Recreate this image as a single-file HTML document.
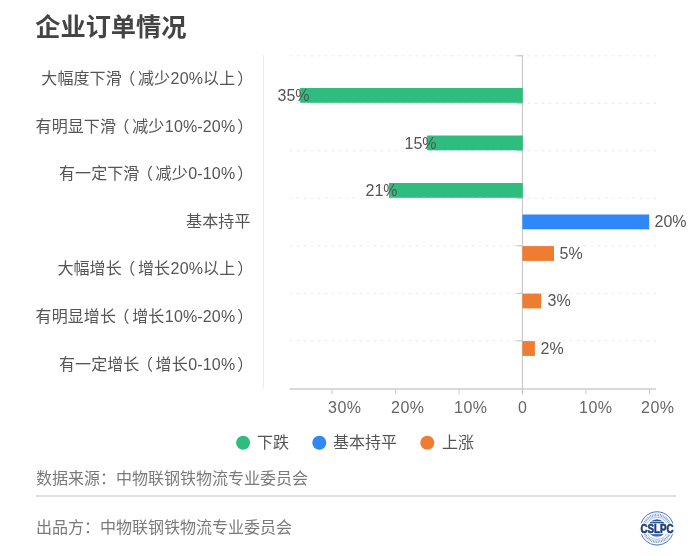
<!DOCTYPE html>
<html lang="zh-CN">
<head>
<meta charset="utf-8">
<title>企业订单情况</title>
<style>
  html, body { margin: 0; padding: 0; background: #ffffff; }
  body { width: 700px; height: 556px; position: relative; overflow: hidden;
    font-family: "Liberation Sans", "Noto Sans CJK SC", sans-serif; font-size: 16px; color: #555; }
  .abs { position: absolute; white-space: nowrap; line-height: 20px; height: 20px; }
  .title { left: 35.3px; top: 12px; font-size: 25.2px; font-weight: bold; color: #444; line-height: 30px; height: 30px; letter-spacing: 0; }
  .cat { right: 446.6px; text-align: right; color: #555; letter-spacing: 0.1px; }
  .cat.np { right: 449.5px; }
  .pl { position: relative; left: -2.5px; }
  .pr { margin-left: 2px; }
  .n { letter-spacing: 0.15px; margin-left: 0.5px; }
  .val .n, .tick .n { margin-left: 0; }
  .tick .n { letter-spacing: 0.5px; }
  .val { color: #555; }
  .tick { color: #666; }
  .leg { color: #555; }
  .foot { color: #7a7a7a; left: 36px; }
</style>
</head>
<body>
  <div class="abs title">企业订单情况</div>

  <!-- category labels -->
  <div class="abs cat" style="top:69px">大幅度下滑<span class="pl">（</span>减少<span class="n">20%</span>以上<span class="pr">）</span></div>
  <div class="abs cat" style="top:116.5px">有明显下滑<span class="pl">（</span>减少<span class="n">10%-20%</span><span class="pr">）</span></div>
  <div class="abs cat" style="top:164px">有一定下滑<span class="pl">（</span>减少<span class="n">0-10%</span><span class="pr">）</span></div>
  <div class="abs cat np" style="top:211.5px">基本持平</div>
  <div class="abs cat" style="top:259px">大幅增长<span class="pl">（</span>增长<span class="n">20%</span>以上<span class="pr">）</span></div>
  <div class="abs cat" style="top:306.5px">有明显增长<span class="pl">（</span>增长<span class="n">10%-20%</span><span class="pr">）</span></div>
  <div class="abs cat" style="top:354.5px">有一定增长<span class="pl">（</span>增长<span class="n">0-10%</span><span class="pr">）</span></div>

  <!-- chart graphics -->
  <svg style="position:absolute;left:0;top:0" width="700" height="430" viewBox="0 0 700 430">
    <line x1="263.5" y1="55" x2="263.5" y2="388.5" stroke="#ebebeb" stroke-width="1"/>
    <line x1="289.5" y1="55.8" x2="656.5" y2="55.8" stroke="#eaeaea" stroke-width="1" stroke-dasharray="3 4"/>
    <line x1="289.5" y1="103.3" x2="656.5" y2="103.3" stroke="#eaeaea" stroke-width="1" stroke-dasharray="3 4"/>
    <line x1="289.5" y1="150.8" x2="656.5" y2="150.8" stroke="#eaeaea" stroke-width="1" stroke-dasharray="3 4"/>
    <line x1="289.5" y1="198.3" x2="656.5" y2="198.3" stroke="#eaeaea" stroke-width="1" stroke-dasharray="3 4"/>
    <line x1="289.5" y1="245.8" x2="656.5" y2="245.8" stroke="#eaeaea" stroke-width="1" stroke-dasharray="3 4"/>
    <line x1="289.5" y1="293.3" x2="656.5" y2="293.3" stroke="#eaeaea" stroke-width="1" stroke-dasharray="3 4"/>
    <line x1="289.5" y1="340.8" x2="656.5" y2="340.8" stroke="#eaeaea" stroke-width="1" stroke-dasharray="3 4"/>
    <line x1="289.5" y1="389" x2="656" y2="389" stroke="#cccccc" stroke-width="1.4"/>
    <line x1="332.0" y1="389" x2="332.0" y2="394.3" stroke="#cccccc" stroke-width="1"/>
    <line x1="395.5" y1="389" x2="395.5" y2="394.3" stroke="#cccccc" stroke-width="1"/>
    <line x1="459.0" y1="389" x2="459.0" y2="394.3" stroke="#cccccc" stroke-width="1"/>
    <line x1="522.4" y1="389" x2="522.4" y2="394.3" stroke="#cccccc" stroke-width="1"/>
    <line x1="586.0" y1="389" x2="586.0" y2="394.3" stroke="#cccccc" stroke-width="1"/>
    <line x1="649.5" y1="389" x2="649.5" y2="394.3" stroke="#cccccc" stroke-width="1"/>
    <line x1="522.4" y1="55.5" x2="522.4" y2="394.3" stroke="#c2c2c2" stroke-width="1"/>
    <line x1="516.5" y1="55.8" x2="522.4" y2="55.8" stroke="#bfbfbf" stroke-width="1"/>
    <line x1="516.5" y1="103.3" x2="522.4" y2="103.3" stroke="#bfbfbf" stroke-width="1"/>
    <line x1="516.5" y1="150.8" x2="522.4" y2="150.8" stroke="#bfbfbf" stroke-width="1"/>
    <line x1="516.5" y1="198.3" x2="522.4" y2="198.3" stroke="#bfbfbf" stroke-width="1"/>
    <line x1="516.5" y1="245.8" x2="522.4" y2="245.8" stroke="#bfbfbf" stroke-width="1"/>
    <line x1="516.5" y1="293.3" x2="522.4" y2="293.3" stroke="#bfbfbf" stroke-width="1"/>
    <line x1="516.5" y1="340.8" x2="522.4" y2="340.8" stroke="#bfbfbf" stroke-width="1"/>
    <rect x="300.1" y="88.0" width="222.7" height="14.8" fill="#2ebd7f"/>
    <rect x="427.1" y="135.5" width="95.7" height="14.8" fill="#2ebd7f"/>
    <rect x="389.0" y="183.0" width="133.8" height="14.8" fill="#2ebd7f"/>
    <rect x="522.4" y="214.5" width="126.8" height="14.8" fill="#2f88f7"/>
    <rect x="522.4" y="246.1" width="31.6" height="14.8" fill="#ee7c31"/>
    <rect x="522.4" y="293.6" width="18.8" height="14.8" fill="#ee7c31"/>
    <rect x="522.4" y="341.1" width="12.5" height="14.8" fill="#ee7c31"/>
  </svg>

  <!-- value labels -->
  <div class="abs val" style="left:277.5px;top:85.5px">35%</div>
  <div class="abs val" style="left:404.5px;top:133.5px">15%</div>
  <div class="abs val" style="left:365.5px;top:180.5px">21%</div>
  <div class="abs val" style="left:654.5px;top:211.5px">20%</div>
  <div class="abs val" style="left:559.5px;top:243.5px">5%</div>
  <div class="abs val" style="left:547.5px;top:290.5px">3%</div>
  <div class="abs val" style="left:540.5px;top:338.5px">2%</div>

  <!-- x tick labels -->
  <div class="abs tick" style="left:328px;top:398.0px"><span class="n">30%</span></div>
  <div class="abs tick" style="left:391px;top:398.0px"><span class="n">20%</span></div>
  <div class="abs tick" style="left:454px;top:398.0px"><span class="n">10%</span></div>
  <div class="abs tick" style="left:518px;top:398.0px"><span class="n">0</span></div>
  <div class="abs tick" style="left:579px;top:398.0px"><span class="n">10%</span></div>
  <div class="abs tick" style="left:641px;top:398.0px"><span class="n">20%</span></div>

  <!-- legend -->
  <svg style="position:absolute;left:230px;top:430px" width="210" height="26" viewBox="230 430 210 26">
    <circle cx="243.1" cy="442.8" r="7" fill="#2ebd7f"/>
    <circle cx="319.3" cy="442.8" r="7" fill="#2f88f7"/>
    <circle cx="427.3" cy="442.8" r="7" fill="#ee7c31"/>
  </svg>
  <div class="abs leg" style="left:257px;top:433px">下跌</div>
  <div class="abs leg" style="left:333px;top:433px">基本持平</div>
  <div class="abs leg" style="left:442px;top:433px">上涨</div>

  <!-- footer -->
  <div class="abs foot" style="top:469px">数据来源：中物联钢铁物流专业委员会</div>
  <svg style="position:absolute;left:0;top:490px" width="700" height="12" viewBox="0 490 700 12"><line x1="36" y1="496" x2="676" y2="496" stroke="#d6d6d6" stroke-width="1.3"/></svg>
  <div class="abs foot" style="top:517.5px">出品方：中物联钢铁物流专业委员会</div>

  <!-- logo -->
  <svg style="position:absolute;left:638px;top:509px" width="38" height="38" viewBox="0 0 38 38">
    <g transform="translate(0,0.4)">
    <circle cx="19" cy="19" r="16.6" fill="#fff" stroke="#2f63ad" stroke-width="0.9"/>
    <circle cx="19" cy="19" r="13.4" fill="none" stroke="#7d9fd2" stroke-width="2.6" stroke-dasharray="0.9 0.7"/>
    <circle cx="19" cy="19" r="11.1" fill="none" stroke="#4f7cbf" stroke-width="0.5"/>
    <circle cx="19" cy="18.8" r="9" fill="#2359a6"/>
    <rect x="2" y="13.9" width="34" height="10.9" fill="#fff"/>
    <rect x="9" y="26.5" width="20" height="0.6" fill="#fff"/>
    <rect x="9" y="11.6" width="20" height="0.6" fill="#fff"/>
    <text x="19" y="23.9" text-anchor="middle" textLength="33.2" lengthAdjust="spacingAndGlyphs"
      font-family="'Liberation Sans', sans-serif" font-weight="bold" font-size="12.4" fill="#1b3d7c" stroke="#1b3d7c" stroke-width="0.6">CSLPC</text>
    </g>
  </svg>
</body>
</html>
